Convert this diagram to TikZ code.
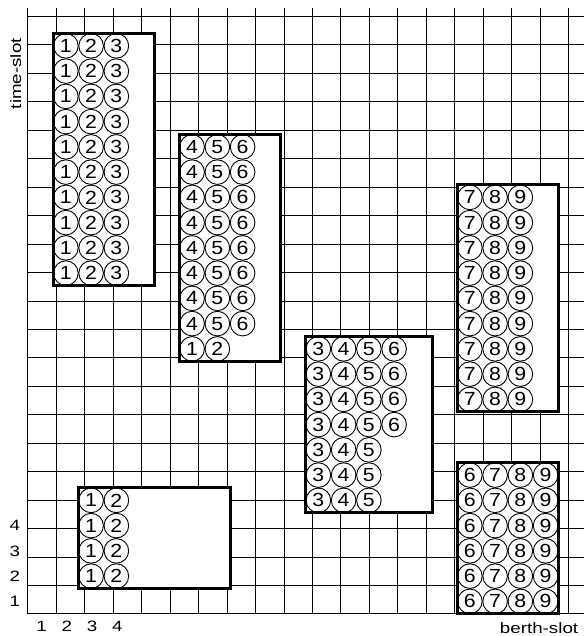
\documentclass[tikz,border=0pt]{standalone}
\usepackage{fontspec}
\usepackage{graphicx}
\setmainfont{Liberation Sans}
\newcommand{\wtxt}[1]{\scalebox{1.25}[1]{#1}}
\newcommand{\dtxt}[1]{\scalebox{1.12}[1]{#1}}
\begin{document}
\begin{tikzpicture}[x=25.25pt,y=25.25pt,
  gridline/.style={line width=1pt, black},
  slotbox/.style={draw, line width=3pt, fill=white},
  slot/.style={circle, draw, line width=0.9pt, minimum size=24.6pt, inner sep=0pt,
    font=\fontsize{19}{19}\selectfont},
  axislabel/.style={inner sep=0pt, font=\fontsize{15}{15}\selectfont}]
\useasboundingbox (-28pt,-22pt) rectangle (556pt,614pt);
\draw[gridline] (0,0) grid (22,24);
% boxes
\draw[slotbox] (1,13) rectangle (5,23);
\draw[slotbox] (6,10) rectangle (10,19);
\draw[slotbox] (11,4) rectangle (16,11);
\draw[slotbox] (17,8) rectangle (21,17);
\draw[slotbox] (17,0) rectangle (21,6);
\draw[slotbox] (2,1) rectangle (8,5);
% box 1
\foreach \r in {13,...,22}
  \foreach [count=\c from 0] \n in {1,2,3}
    \node[slot] (a-\r-\n) at (1.5+\c,\r+0.5) {\dtxt{\n}};
% box 2
\foreach \r in {11,...,18}
  \foreach [count=\c from 0] \n in {4,5,6}
    \node[slot] (b-\r-\n) at (6.5+\c,\r+0.5) {\dtxt{\n}};
\foreach [count=\c from 0] \n in {1,2}
  \node[slot] (b-10-\n) at (6.5+\c,10.5) {\dtxt{\n}};
% box 3
\foreach \r in {7,...,10}
  \foreach [count=\c from 0] \n in {3,4,5,6}
    \node[slot] (c-\r-\n) at (11.5+\c,\r+0.5) {\dtxt{\n}};
\foreach \r in {4,...,6}
  \foreach [count=\c from 0] \n in {3,4,5}
    \node[slot] (c-\r-\n) at (11.5+\c,\r+0.5) {\dtxt{\n}};
% box 4
\foreach \r in {8,...,16}
  \foreach [count=\c from 0] \n in {7,8,9}
    \node[slot] (d-\r-\n) at (17.5+\c,\r+0.5) {\dtxt{\n}};
% box 5
\foreach \r in {0,...,5}
  \foreach [count=\c from 0] \n in {6,7,8,9}
    \node[slot] (e-\r-\n) at (17.5+\c,\r+0.5) {\dtxt{\n}};
% box 6
\foreach \r in {1,...,4}
  \foreach [count=\c from 0] \n in {1,2}
    \node[slot] (f-\r-\n) at (2.5+\c,\r+0.5) {\dtxt{\n}};
% axis labels
\foreach \i in {1,...,4} {
  \node[axislabel] (bx-\i) at (\i-0.46,-0.5) {\wtxt{\i}};
  \node[axislabel] (ly-\i) at (-0.52,\i-0.5) {\wtxt{\i}};
}
\node[axislabel, rotate=90] (tslot) at (-0.48,21.4) {\wtxt{time-slot}};
\node[axislabel] (bslot) at (20.24,-0.56) {\wtxt{berth-slot}};
\end{tikzpicture}
\end{document}
